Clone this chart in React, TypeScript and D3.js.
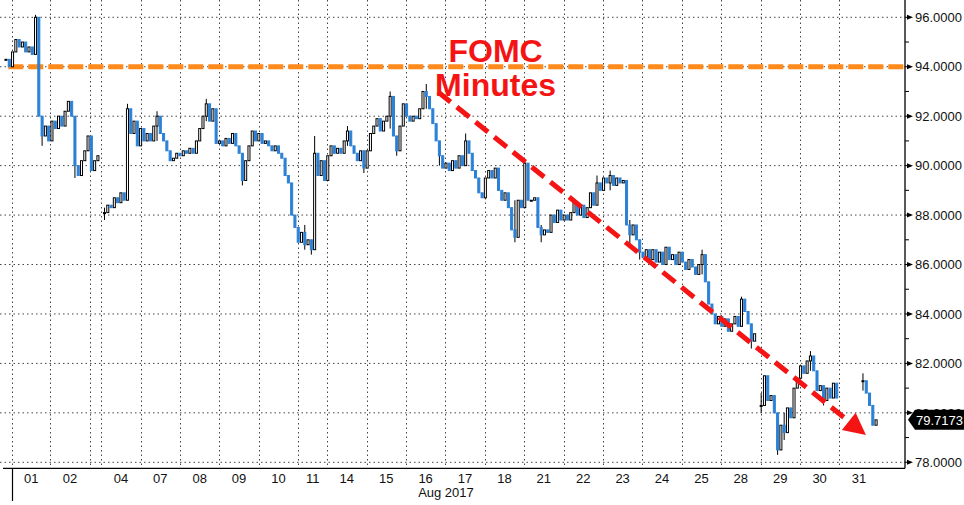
import React from 'react';
import * as d3 from 'd3';

// ---- data ----
// day labels (trading days of Aug 2017) and their boundaries in 2-hour slots
const dayLabels = ['01', '02', '', '04', '07', '08', '09', '10', '11', '14', '15', '16', '17', '18', '21', '22', '23', '24', '25', '28', '29', '30', '31'];
const dayBounds = [3.33, 15, 27, 30.5, 42.5, 54.5, 66.5, 78.5, 90.5, 99.3, 111.3, 123.3, 135.3, 147.3, 159.3, 171.3, 183.3, 195.3, 207.3, 219.3, 231.3, 243.3, 255.3, 267.3];
const slotDomain = [0, 275.3];

// 2-hour closes (null = no trading); open of each candle = previous close
const closes: (number | null)[] = [
  null,
  // 31 Jul tail / 01
  94.3, 94.0, 94.6, 95.1, 94.8, 95.0, 94.6, 94.8, 94.5, 96.0, 92.0, 91.2, 91.6, 91.0,
  // 02
  91.8, 91.5, 92.0, 91.6, 92.2, 92.6, 92.0, 90.0, 89.6, 90.2, 90.6, 91.2,
  // 03
  89.8, 90.2, 90.4,
  null,
  // 04
  88.1, 88.4, 88.3, 88.7, 88.5, 88.9, 88.6, 92.3, 91.3, 91.8, 90.8,
  // 07
  91.5, 91.0, 91.3, 91.0, 91.6, 92.0, 91.3, 91.0, 90.6, 90.2, 90.3, 90.5,
  // 08
  90.4, 90.6, 90.5, 90.7, 90.5, 91.0, 91.5, 92.0, 92.5, 91.8, 92.3, 90.9,
  // 09
  91.0, 90.8, 91.1, 90.9, 91.3, 90.8, 90.5, 89.4, 90.2, 90.8, 91.4, 91.0,
  // 10
  91.3, 90.9, 91.0, 90.8, 90.6, 90.8, 90.5, 90.3, 89.6, 89.3, 88.0, 87.5,
  // 11
  86.9, 87.3, 86.8, 87.0, 86.6, 90.5, 89.6, 90.2, 89.4,
  // 14
  90.4, 90.8, 90.5, 90.7, 90.5, 91.0, 91.4, 90.8, 90.5, 90.2, 90.6, 89.9,
  // 15
  90.6, 91.3, 91.6, 91.9, 91.4, 91.8, 92.0, 92.8, 91.2, 90.6, 91.6, 92.5,
  // 16
  92.0, 91.8, 92.0, 91.9, 92.3, 93.0, 92.8, 92.3, 91.7, 91.0, 90.4, 89.9,
  // 17
  90.1, 89.8, 90.2, 89.9, 90.4, 90.0, 91.0, 90.5, 89.8, 89.5, 88.9, 88.7,
  // 18
  89.5, 89.8, 89.5, 89.9, 89.0, 88.6, 88.9, 88.3, 87.4, 87.1, 88.6, 88.3,
  // 21
  90.1, 88.6, 88.6, 88.7, 87.5, 87.2, 87.4, 87.3, 88.0, 87.7, 88.2, 87.8,
  // 22
  88.0, 87.8, 88.1, 88.5, 88.0, 88.4, 87.9, 88.3, 88.9, 88.4, 89.3, 89.0,
  // 23
  89.5, 89.3, 89.6, 89.2, 89.5, 89.3, 89.4, 87.6, 87.2, 87.6, 87.0, 86.5,
  // 24
  86.3, 86.6, 86.2, 86.6, 86.1, 86.5, 86.0, 86.7, 86.2, 86.4, 86.0, 86.5,
  // 25
  86.1, 85.8, 86.2, 85.9, 85.6, 86.0, 86.4, 85.3, 84.4, 84.0, 83.6, 83.9,
  // 28
  83.5, 83.8, 83.3, 83.6, 83.9, 83.5, 84.6, 84.1, 83.6, 82.9, 83.2,
  null,
  // 29
  80.3, 81.5, 80.5, 80.7, 80.0, 78.5, 79.5, 79.2, 80.2, 79.8, 81.0, 81.4,
  // 30
  81.9, 81.6, 82.1, 82.3, 81.7, 80.9, 81.1, 80.5, 81.0, 80.6, 81.2, 80.6,
  null, null, null, null, null, null, null,
  // 31
  81.3, 80.8, 80.3, 79.5, 79.7173,
];

// notable wicks: [slot, low, high]
const wicks: [number, number, number][] = [
  [10, 94.5, 96.1], [12, 90.8, 91.9], [22, 89.5, 92.0], [31, 87.8, 88.3], [38, 88.6, 92.5],
  [47, 91.0, 92.2], [62, 91.8, 92.7], [73, 89.2, 90.4], [92, 86.6, 87.6], [94, 86.4, 87.0],
  [95, 86.6, 91.2], [105, 90.8, 91.6], [110, 89.7, 90.6], [118, 91.5, 93.0], [120, 90.4, 91.2],
  [129, 92.3, 93.3], [133, 90.0, 91.0], [141, 90.0, 91.3], [156, 86.9, 88.6], [159, 88.3, 90.2],
  [164, 86.9, 87.6], [181, 88.4, 89.6], [185, 89.0, 89.8], [191, 86.8, 87.8], [194, 86.2, 87.0],
  [213, 85.6, 86.6], [225, 83.5, 84.7], [228, 82.6, 83.6], [231, 80.0, 80.8], [236, 78.3, 80.0],
  [238, 78.9, 80.0], [246, 81.7, 82.5], [250, 80.3, 81.1], [262, 80.9, 81.6],
];

const yMajorTicks = [78, 80, 82, 84, 86, 88, 90, 92, 94, 96];
const yMinorTicks = [79, 81, 83, 85, 87, 89, 91, 93, 95];
const valueDomain = [78, 96];
const lastValue = 79.7173;
const referenceLevel = 94;
const referenceStartSlot = 2.2;
const noteLines = ['FOMC', 'Minutes'];
const noteAnchor = { slot: 150.6, value: 94.18 };
const trendStart = { slot: 133.1, value: 92.98 };
const trendEnd = { slot: 263.4, value: 79.1 };
const monthLabel = 'Aug 2017';
const monthLabelSlot = 135.5;

// ---- layout / styles ----
const W = 964;
const H = 505;
const PLOT_LEFT = 1.055;
const PLOT_RIGHT = 905;
const AXIS_Y = 468.3;
const BLUE = '#2a80d6';
const ORANGE = '#ff8a1c';
const RED = '#f51414';
const FONT = '"Liberation Sans", Arial, sans-serif';

export default function App() {
  const x = d3.scaleLinear().domain(slotDomain).range([PLOT_LEFT, PLOT_RIGHT]);
  const y = d3.scaleLinear().domain(valueDomain).range([462.3, 17.3]);
  const slotW = x(1) - x(0);
  const bw = slotW * 0.62;

  const candles: React.ReactNode[] = [];
  let prev: number | null = null;
  closes.forEach((c, i) => {
    if (c == null) {
      prev = null;
      return;
    }
    const open = prev == null ? c : prev;
    const cx = x(i + 0.5);
    const top = y(Math.max(open, c));
    const bot = y(Math.min(open, c));
    const h = Math.max(bot - top, 1);
    const up = c >= open;
    candles.push(
      <rect
        key={i}
        x={cx - bw / 2}
        y={top}
        width={bw}
        height={h}
        fill={up ? '#ffffff' : BLUE}
        stroke={up ? '#000000' : BLUE}
        strokeWidth={1}
      />
    );
    prev = c;
  });

  // trend arrow
  const sx = x(trendStart.slot), sy = y(trendStart.value);
  const ex = x(trendEnd.slot), ey = y(trendEnd.value);
  const len = Math.hypot(ex - sx, ey - sy);
  const ux = (ex - sx) / len, uy = (ey - sy) / len;
  const headLen = 22, headHalf = 11;
  const bx = ex - ux * headLen, by = ey - uy * headLen;
  const head = `M${ex},${ey} L${bx - uy * headHalf},${by + ux * headHalf} L${bx + uy * headHalf},${by - ux * headHalf} Z`;

  const ly = y(lastValue);

  return (
    <svg
      width={W}
      height={H}
      style={{ position: 'absolute', left: 0, top: 0, display: 'block', background: '#fff' }}
      fontFamily={FONT}
    >
      <rect x={0} y={0} width={W} height={H} fill="#fff" />
      {/* horizontal grid */}
      {yMajorTicks.map((t) => (
        <line key={'hg' + t} x1={0} x2={PLOT_RIGHT} y1={y(t)} y2={y(t)} stroke="#444" strokeWidth={1} strokeDasharray="1.5 3" />
      ))}
      {/* vertical grid */}
      {dayBounds.slice(0, dayBounds.length - 1).map((b, i) => (
        <line key={'vg' + i} x1={Math.round(x(b)) + 0.5} x2={Math.round(x(b)) + 0.5} y1={0} y2={AXIS_Y} stroke="#444" strokeWidth={1} strokeDasharray="1.5 3" />
      ))}

      {/* reference level */}
      <line
        x1={x(referenceStartSlot)}
        x2={PLOT_RIGHT}
        y1={y(referenceLevel)}
        y2={y(referenceLevel)}
        stroke={ORANGE}
        strokeWidth={5}
        strokeDasharray="15 5"
      />

      {/* wicks */}
      {wicks.map(([s, lo, hi]) => (
        <line key={'w' + s} x1={x(s + 0.5)} x2={x(s + 0.5)} y1={y(hi)} y2={y(lo)} stroke="#000" strokeWidth={1} />
      ))}

      {candles}

      {/* trend arrow */}
      <line x1={sx} y1={sy} x2={bx} y2={by} stroke={RED} strokeWidth={5} strokeDasharray="16 8" />
      <path d={head} fill={RED} />

      {/* annotation */}
      {noteLines.map((t, i) => (
        <text
          key={t}
          x={x(noteAnchor.slot)}
          y={y(noteAnchor.value) + i * 34}
          textAnchor="middle"
          fontSize={32}
          fontWeight="bold"
          fill={RED}
        >
          {t}
        </text>
      ))}

      {/* axes */}
      <line x1={3} x2={PLOT_RIGHT} y1={AXIS_Y} y2={AXIS_Y} stroke="#000" strokeWidth={1.3} />
      <line x1={PLOT_RIGHT} x2={PLOT_RIGHT} y1={0} y2={AXIS_Y} stroke="#000" strokeWidth={1.3} />
      <line x1={Math.round(x(dayBounds[0])) + 0.5} x2={Math.round(x(dayBounds[0])) + 0.5} y1={AXIS_Y} y2={501} stroke="#000" strokeWidth={1.2} />

      {/* y ticks */}
      {yMinorTicks.map((t) => (
        <line key={'mt' + t} x1={PLOT_RIGHT} x2={PLOT_RIGHT + 4} y1={y(t)} y2={y(t)} stroke="#000" strokeWidth={1} />
      ))}
      {yMajorTicks.map((t) => (
        <g key={'MT' + t}>
          <line x1={PLOT_RIGHT} x2={PLOT_RIGHT + 3} y1={y(t)} y2={y(t)} stroke="#000" strokeWidth={1} />
          <path d={`M${PLOT_RIGHT + 2},${y(t) - 2.5} L${PLOT_RIGHT + 8},${y(t)} L${PLOT_RIGHT + 2},${y(t) + 2.5} Z`} fill="#000" />
          <text x={PLOT_RIGHT + 10} y={y(t)} dy="0.36em" fontSize={13} fill="#111">
            {d3.format('.4f')(t)}
          </text>
        </g>
      ))}

      {/* last value label */}
      <path d={`M${PLOT_RIGHT + 3},${ly} L${PLOT_RIGHT + 10},${ly - 10} L${W},${ly - 10} L${W},${ly + 10} L${PLOT_RIGHT + 10},${ly + 10} Z`} fill="#000" />
      <text x={PLOT_RIGHT + 11} y={ly} dy="0.36em" fontSize={13} fill="#fff">
        {d3.format('.4f')(lastValue)}
      </text>

      {/* x labels */}
      {dayLabels.map((l, i) =>
        l ? (
          <text key={'xl' + i} x={(x(dayBounds[i]) + x(dayBounds[i + 1])) / 2} y={483} textAnchor="middle" fontSize={13} fill="#111">
            {l}
          </text>
        ) : null
      )}
      <text x={x(monthLabelSlot)} y={497} textAnchor="middle" fontSize={13} fill="#111">
        {monthLabel}
      </text>
    </svg>
  );
}
